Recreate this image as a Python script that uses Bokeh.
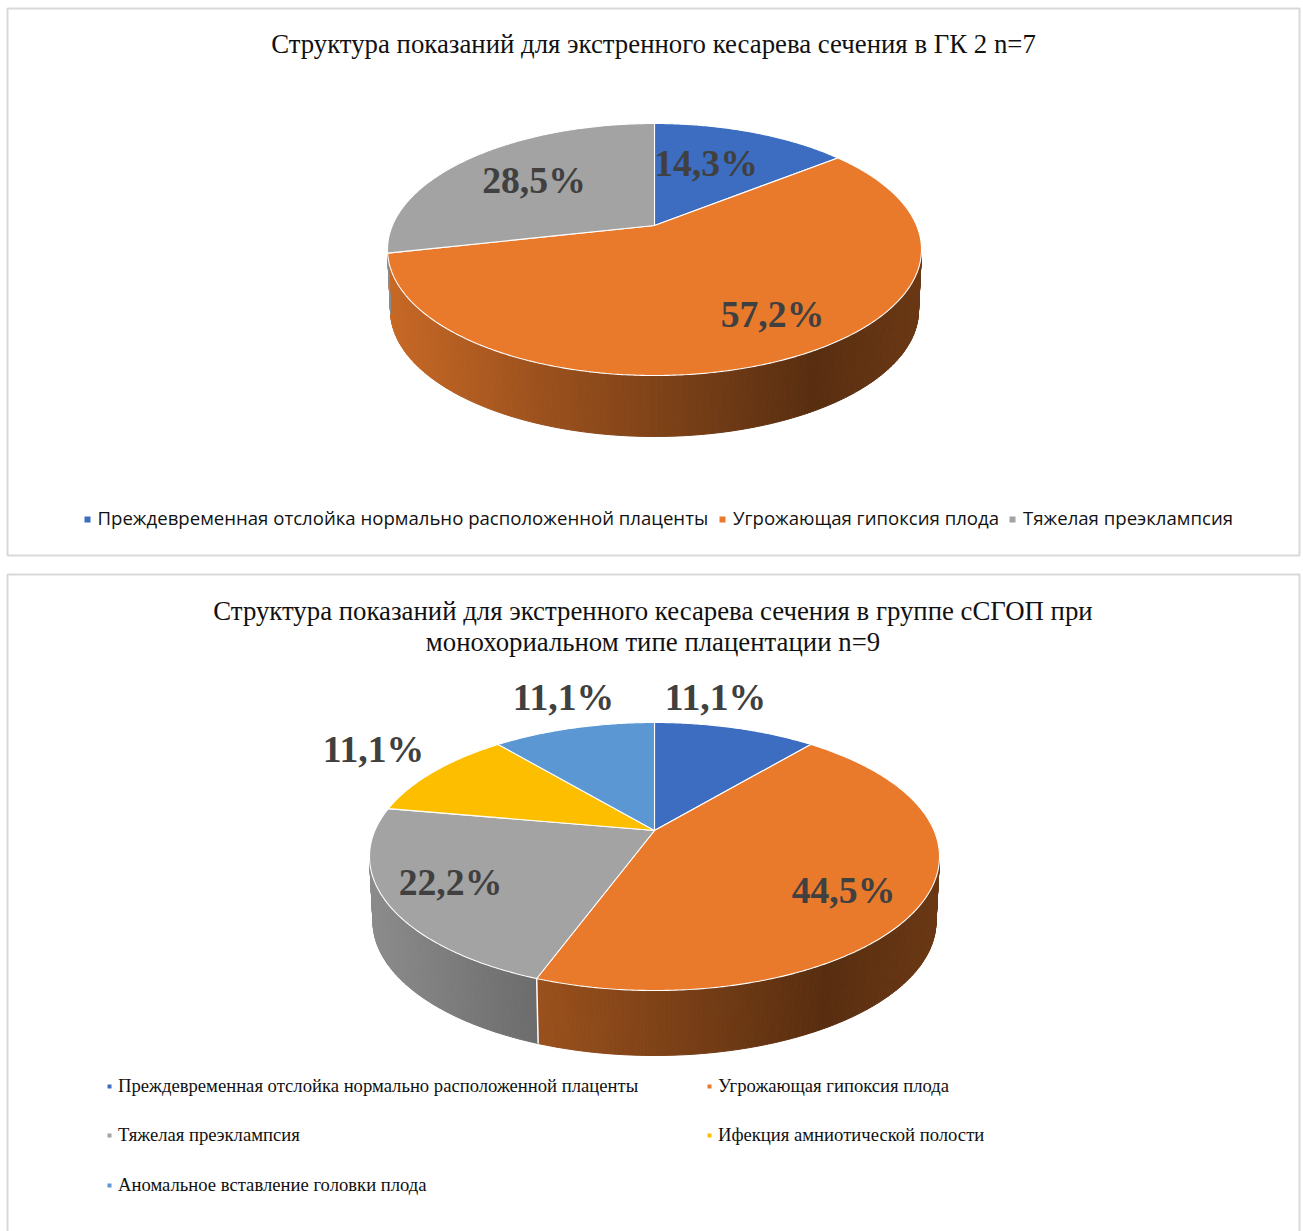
import math
from bokeh.core.properties import value
from bokeh.embed import file_html
from bokeh.plotting import figure
from bokeh.resources import INLINE

# Slice names, shares and colours
names_a = ["Преждевременная отслойка нормально расположенной плаценты",
           "Угрожающая гипоксия плода",
           "Тяжелая преэклампсия"]
values_a = [14.3, 57.2, 28.5]
colors_a = ["#3C6DC0", "#E97A2C", "#A3A3A3"]

names_b = ["Преждевременная отслойка нормально расположенной плаценты",
           "Угрожающая гипоксия плода",
           "Тяжелая преэклампсия",
           "Ифекция амниотической полости",
           "Аномальное вставление головки плода"]
values_b = [11.1, 44.5, 22.2, 11.1, 11.1]
colors_b = ["#3C6DC0", "#E97A2C", "#A3A3A3", "#FDBE00", "#5B97D3"]

title_a = ["Структура показаний для экстренного кесарева сечения в ГК 2 n=7"]
title_b = ["Структура показаний для экстренного кесарева сечения в группе сСГОП при",
           "монохориальном типе плацентации n=9"]

W, H = 1303, 1231
SERIF = "Liberation Serif"

p = figure(width=W, height=H, x_range=(0, W), y_range=(H, 0),
           output_backend="svg", toolbar_location=None, min_border=0)
p.axis.visible = False
p.grid.visible = False
p.outline_line_color = None
p.background_fill_color = "white"
p.border_fill_color = "white"


def shade(t):
    """Brightness of the pie wall across its width, t from 0 (left) to 1 (right)."""
    stops = [(0.0, 0.86), (0.3, 0.66), (0.5, 0.55), (0.8, 0.38), (1.0, 0.46)]
    for (t0, s0), (t1, s1) in zip(stops, stops[1:]):
        if t <= t1:
            return s0 + (s1 - s0) * (t - t0) / (t1 - t0)
    return stops[-1][1]


def darken(hex_color, k):
    r, g, b = (int(hex_color[i:i + 2], 16) for i in (1, 3, 5))
    return "#%02x%02x%02x" % (int(r * k), int(g * k), int(b * k))


def disc(theta, c):
    """Perspective view of a point on the pie rim, theta clockwise from 12 o'clock."""
    X, Y = math.sin(theta), math.cos(theta)
    w = 1 + c * Y
    return math.sqrt(1 - c * c) * X / w, (Y + c) / w


def draw_pie(values, colors, cx, cy, rx, ry, apex_y, depth, rx_low):
    c = (cy - apex_y) / ry
    left, right = cx - rx_low, cx + rx_low
    low_cy = cy + depth

    bounds = [0.0]
    for v in values:
        bounds.append(bounds[-1] + v / sum(values) * 2 * math.pi)

    # Outer wall, built from narrow facets shaded from left to right
    facets = []
    for v0, v1, col in zip(bounds, bounds[1:], colors):
        n = max(2, int((v1 - v0) / 0.012))
        for i in range(n):
            a0 = v0 + (v1 - v0) * i / n
            a1 = v0 + (v1 - v0) * (i + 1) / n
            u0, w0 = disc(a0, c)
            u1, w1 = disc(a1, c)
            if w0 > 0.02 and w1 > 0.02:
                continue
            xs = [cx + rx * u0, cx + rx * u1, cx + rx_low * u1, cx + rx_low * u0]
            ys = [cy - ry * w0, cy - ry * w1, low_cy - ry * w1, low_cy - ry * w0]
            t = (cx + rx_low * (u0 + u1) / 2 - left) / (right - left)
            facets.append((xs, ys, darken(col, shade(t))))
    p.patches([f[0] for f in facets], [f[1] for f in facets],
              fill_color=[f[2] for f in facets], line_color=[f[2] for f in facets],
              line_width=1)

    # White seams on the wall where two slices meet; a boundary on the silhouette shows none
    for b in bounds[:-1]:
        u, w = disc(b, c)
        if w < 0 and abs(u) < 0.95:
            p.line([cx + rx * u, cx + rx_low * u], [cy - ry * w, low_cy - ry * w],
                   line_color="white", line_width=1.5)

    # Top face
    for v0, v1, col in zip(bounds, bounds[1:], colors):
        n = max(8, int((v1 - v0) / 0.01))
        pts = [disc(v0 + (v1 - v0) * i / n, c) for i in range(n + 1)]
        xs = [cx] + [cx + rx * u for u, _ in pts]
        ys = [apex_y] + [cy - ry * w for _, w in pts]
        p.patch(xs, ys, fill_color=col, line_color="white", line_width=1.1)


def draw_labels(texts, xs, ys, size, font, color, weight="normal", align="center"):
    p.text(xs, ys, text=texts, text_font=value(font), text_font_size=value(size),
           text_font_style=weight, text_color=color, text_align=align,
           text_baseline="middle")


def pct(v):
    return f"{v:.1f}".replace(".", ",") + "%"


# Card frames
p.quad(left=[7, 7], right=[1299, 1299], top=[8, 574], bottom=[555, 1262],
       fill_color="white", line_color="#D9D9D9", line_width=2)

# Upper chart
draw_labels(title_a, [653], [43], "26.8px", SERIF, "#111111")
draw_pie(values_a, colors_a, 654, 249, 267, 126, 225, 61, 264)
draw_labels([pct(v) for v in values_a], [705.5, 772, 533.5], [162, 313, 179],
            "37.7px", SERIF, "#404040", weight="bold")
p.scatter([87, 722, 1012], [519, 519, 519], marker="square", size=6,
          fill_color=colors_a, line_color=None)
draw_labels(names_a, [97, 732.5, 1022.5], [517, 517, 517], "18.6px", "Open Sans", "#111111",
            align="left")

# Lower chart
draw_labels(title_b, [652.5, 652.5], [610, 641], "26.8px", SERIF, "#111111")
draw_pie(values_b, colors_b, 654, 856, 285, 134, 830, 65, 281.5)
draw_labels([pct(v) for v in values_b], [715, 843, 450, 373, 563], [696, 889, 881, 748, 696],
            "37.7px", SERIF, "#404040", weight="bold")
p.scatter([109, 709, 109, 709, 109], [1086, 1086, 1135, 1135, 1185], marker="square", size=4,
          fill_color=colors_b, line_color=None)
draw_labels(names_b, [117.5, 717.5, 117.5, 717.5, 117.5], [1085, 1085, 1134, 1134, 1184], "18.65px",
            SERIF, "#111111", align="left")

open("out.html", "w").write(file_html(p, INLINE))
